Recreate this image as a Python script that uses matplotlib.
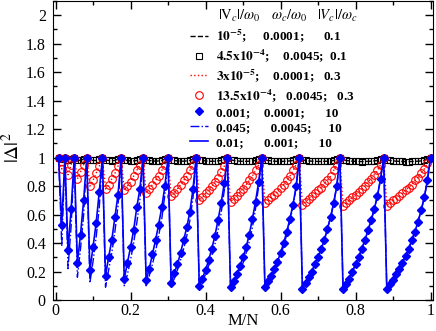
import matplotlib
matplotlib.use('Agg')
import matplotlib.pyplot as plt
import numpy as np
from matplotlib.ticker import MultipleLocator, FuncFormatter

plt.rcParams['font.family'] = ['Liberation Serif', 'DejaVu Serif']
plt.rcParams['mathtext.fontset'] = 'stix'

# M/N grid, N = 120, M = 1..120 (peaks at M = 1, 3, 6, 10, 15, ...)
N = 120
M = np.arange(1, N + 1)

# 4.5x10^-4; 0.0045; 0.1  (black squares, near 1)
sq_vals = [
    1.0, 0.99, 1.0, 0.985, 0.99, 1.0, 0.985, 0.98, 0.99, 1.0,
    0.985, 0.98, 0.98, 0.99, 1.0,
    0.985, 0.98, 0.978, 0.98, 0.99, 1.0,
    0.985, 0.98, 0.977, 0.977, 0.98, 0.99, 1.0,
    0.985, 0.98, 0.977, 0.975, 0.977, 0.98, 0.99, 1.0,
    0.985, 0.98, 0.977, 0.975, 0.975, 0.977, 0.98, 0.99, 1.0,
    0.985, 0.98, 0.977, 0.975, 0.974, 0.975, 0.977, 0.98, 0.99, 1.0,
    0.985, 0.98, 0.977, 0.975, 0.974, 0.974, 0.975, 0.977, 0.98, 0.99, 1.0,
    0.985, 0.98, 0.977, 0.975, 0.974, 0.973, 0.974, 0.975, 0.977, 0.98, 0.99, 1.0,
    0.985, 0.98, 0.977, 0.975, 0.974, 0.973, 0.973, 0.974, 0.975, 0.977, 0.98, 0.99, 1.0,
    0.985, 0.98, 0.977, 0.975, 0.974, 0.973, 0.972, 0.973, 0.974, 0.975, 0.977, 0.98, 0.99, 1.0,
    0.985, 0.98, 0.977, 0.975, 0.974, 0.973, 0.972, 0.972, 0.973, 0.974, 0.975, 0.977, 0.98, 0.99, 1.0,
]

# 13.5x10^-4; 0.0045; 0.3  (red circles)
red_vals = [
    1.0, 0.92, 1.0, 0.88, 0.95, 1.0, 0.85, 0.90, 0.95, 1.0,
    0.80, 0.84, 0.89, 0.94, 1.0,
    0.78, 0.81, 0.85, 0.89, 0.94, 1.0,
    0.77, 0.80, 0.83, 0.87, 0.91, 0.95, 1.0,
    0.75, 0.78, 0.81, 0.84, 0.87, 0.91, 0.95, 1.0,
    0.73, 0.75, 0.78, 0.81, 0.84, 0.87, 0.91, 0.95, 1.0,
    0.70, 0.72, 0.75, 0.77, 0.80, 0.83, 0.86, 0.90, 0.94, 1.0,
    0.69, 0.71, 0.73, 0.76, 0.78, 0.81, 0.84, 0.87, 0.91, 0.95, 1.0,
    0.68, 0.70, 0.72, 0.74, 0.76, 0.79, 0.81, 0.84, 0.87, 0.91, 0.95, 1.0,
    0.67, 0.69, 0.71, 0.73, 0.75, 0.77, 0.79, 0.82, 0.84, 0.87, 0.91, 0.95, 1.0,
    0.66, 0.68, 0.70, 0.72, 0.74, 0.76, 0.78, 0.80, 0.83, 0.85, 0.88, 0.91, 0.95, 1.0,
    0.66, 0.68, 0.70, 0.71, 0.73, 0.75, 0.77, 0.79, 0.81, 0.84, 0.86, 0.89, 0.92, 0.96, 1.0,
]

# 0.001; 0.0001; 10  (blue diamonds)
dia_vals = [
    1.0, 0.53, 1.0, 0.35, 0.64, 1.0, 0.26, 0.46, 0.70, 1.0,
    0.21, 0.37, 0.54, 0.76, 1.0,
    0.17, 0.30, 0.42, 0.58, 0.74, 1.0,
    0.15, 0.26, 0.37, 0.49, 0.65, 0.78, 1.0,
    0.14, 0.22, 0.32, 0.42, 0.53, 0.65, 0.80, 1.0,
    0.12, 0.19, 0.25, 0.33, 0.42, 0.51, 0.62, 0.78, 1.0,
    0.10, 0.15, 0.21, 0.28, 0.36, 0.45, 0.56, 0.68, 0.82, 1.0,
    0.09, 0.13, 0.18, 0.24, 0.30, 0.37, 0.46, 0.57, 0.69, 0.83, 1.0,
    0.09, 0.13, 0.17, 0.22, 0.27, 0.33, 0.40, 0.48, 0.57, 0.67, 0.80, 1.0,
    0.08, 0.12, 0.16, 0.20, 0.25, 0.30, 0.36, 0.42, 0.50, 0.58, 0.68, 0.80, 1.0,
    0.08, 0.11, 0.15, 0.20, 0.25, 0.30, 0.36, 0.42, 0.49, 0.56, 0.64, 0.73, 0.85, 1.0,
    0.08, 0.11, 0.14, 0.18, 0.22, 0.26, 0.31, 0.36, 0.42, 0.48, 0.55, 0.63, 0.72, 0.84, 1.0,
]

# 0.045; 0.0045; 10  (blue dash-dot)
dd_vals = [
    1.0, 0.38, 1.0, 0.22, 0.52, 1.0, 0.16, 0.36, 0.60, 1.0,
    0.12, 0.27, 0.44, 0.65, 1.0,
    0.09, 0.21, 0.33, 0.48, 0.66, 1.0,
    0.10, 0.18, 0.28, 0.40, 0.54, 0.70, 1.0,
    0.10, 0.17, 0.25, 0.34, 0.45, 0.57, 0.74, 1.0,
    0.10, 0.15, 0.21, 0.28, 0.36, 0.45, 0.56, 0.72, 1.0,
    0.09, 0.13, 0.18, 0.24, 0.31, 0.39, 0.49, 0.61, 0.77, 1.0,
    0.09, 0.12, 0.16, 0.21, 0.26, 0.33, 0.41, 0.51, 0.64, 0.80, 1.0,
    0.09, 0.12, 0.16, 0.20, 0.25, 0.31, 0.38, 0.46, 0.55, 0.66, 0.79, 1.0,
    0.08, 0.12, 0.16, 0.20, 0.25, 0.30, 0.36, 0.42, 0.50, 0.58, 0.68, 0.80, 1.0,
    0.08, 0.11, 0.15, 0.20, 0.25, 0.30, 0.36, 0.42, 0.49, 0.56, 0.64, 0.73, 0.85, 1.0,
    0.08, 0.11, 0.14, 0.18, 0.22, 0.26, 0.31, 0.36, 0.42, 0.48, 0.55, 0.63, 0.72, 0.84, 1.0,
]

# legend columns: |Vc|/w0, wc/w0, |Vc|/wc
col_vc = [r'$\mathbf{10^{-5}}$;', r'$\mathbf{4.5x10^{-4}}$;', r'$\mathbf{3x10^{-5}}$;',
          r'$\mathbf{13.5x10^{-4}}$;', '0.001;', '0.045;', '0.01;']
col_wc = ['0.0001;', '0.0045;', '0.0001;', '0.0045;', '0.0001;', '0.0045;', '0.001;']
col_ratio = ['0.1', '0.1', '0.3', '0.3', '10', '10', '10']
# column offsets (px from start of label)
col2_off = [47, 68, 59, 72, 49, 53, 49]
col3_off = [109, 116, 108, 122, 109, 112, 103]

LEG_SIZE = 9.5

x = M / N
sq = np.array(sq_vals)
red = np.array(red_vals)
dia = np.array(dia_vals)
dd = np.array(dd_vals)

fig = plt.figure(figsize=(4.36, 3.31), dpi=100)
ax = fig.add_axes([52.7 / 436, 31 / 331, 380.3 / 436, 299 / 331])

h1, = ax.plot(x, sq, color='k', ls='--', lw=1.0)
h2, = ax.plot(x, sq, ls='none', marker='s', ms=4, mfc='none', mec='k', mew=0.8)
h3, = ax.plot(x, red, color='red', ls=':', lw=1.0)
h4, = ax.plot(x, red, ls='none', marker='o', ms=5.5, mfc='none', mec='red', mew=0.8)
h6, = ax.plot(x, dd, color='blue', ls='-.', lw=1.0)
h7, = ax.plot(x, dia, color='blue', ls='-', lw=1.2)
h5, = ax.plot(x, dia, ls='none', marker='D', ms=4.5, mfc='blue', mec='blue')

ax.set_xlim(-0.0075, 1.0066)
ax.set_ylim(0, 2.1)
ax.xaxis.set_major_locator(MultipleLocator(0.2))
ax.xaxis.set_minor_locator(MultipleLocator(0.1))
ax.yaxis.set_major_locator(MultipleLocator(0.2))
ax.yaxis.set_minor_locator(MultipleLocator(0.1))
fmt = FuncFormatter(lambda v, p: '%g' % round(v, 2))
ax.xaxis.set_major_formatter(fmt)
ax.yaxis.set_major_formatter(fmt)
ax.tick_params(which='both', direction='in', top=True, right=True, labelsize=11.5)
ax.tick_params(which='major', length=6, width=1)
ax.tick_params(which='minor', length=3, width=1)
ax.tick_params(axis='y', pad=5)
ax.tick_params(axis='x', pad=2.5)

ax.set_xlabel('M/N', fontsize=12)
ax.xaxis.set_label_coords(0.5, -0.045)
ax.set_ylabel(r'$|\Delta|^2$', fontsize=14)
ax.yaxis.set_label_coords(-0.078, 0.51)

# header of legend
ax.text(0.435, 0.937, r'$|\mathrm{V}_c|/\omega_0$', transform=ax.transAxes, fontsize=10.5)
ax.text(0.573, 0.937, r'$\omega_c/\omega_0$', transform=ax.transAxes, fontsize=10.5)
ax.text(0.695, 0.937, r'$|V_c|/\omega_c$', transform=ax.transAxes, fontsize=10.5)

# build legend labels with spaces so columns sit where they do in the figure
renderer = fig.canvas.get_renderer()


def text_width(s):
    t = fig.text(0, 0, s, fontsize=LEG_SIZE, fontweight='bold')
    w = t.get_window_extent(renderer).width
    t.remove()
    return w


def pad_to(prefix, nxt, target):
    best, best_err = prefix + ' ', 1e9
    for n in range(1, 40):
        s = prefix + ' ' * n
        err = abs(text_width(s + nxt) - text_width(nxt) - target)
        if err < best_err:
            best, best_err = s, err
    return best


labels = []
for c1, c2, c3, o2, o3 in zip(col_vc, col_wc, col_ratio, col2_off, col3_off):
    s = pad_to(c1, c2, o2) + c2
    s = pad_to(s, c3, o3) + c3
    labels.append(s)

ax.legend([h1, h2, h3, h4, h5, h6, h7], labels, loc='upper left',
          bbox_to_anchor=(0.36, 0.912), frameon=False, borderpad=0,
          borderaxespad=0, handlelength=1.4, handletextpad=0.6,
          labelspacing=0.22, prop={'size': LEG_SIZE, 'weight': 'bold'})

fig.savefig('out.png', dpi=100)
